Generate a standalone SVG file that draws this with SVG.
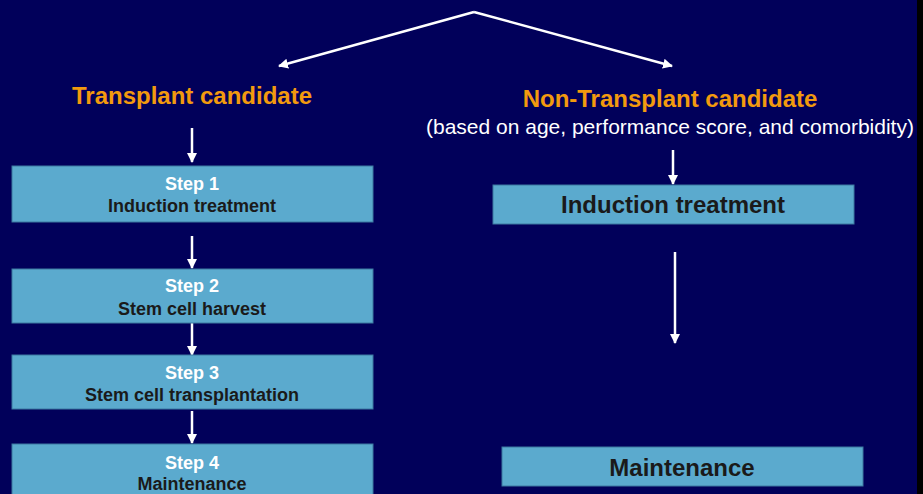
<svg xmlns="http://www.w3.org/2000/svg" width="923" height="494" viewBox="0 0 923 494">
<defs>
<marker id="ah" viewBox="0 0 10 10" refX="9" refY="5" markerWidth="4" markerHeight="4" orient="auto" markerUnits="strokeWidth">
<path d="M0,0 L10,5 L0,10 z" fill="#ffffff"/>
</marker>
<style>
.box{fill:#5BAACE;stroke:#3C78A0;stroke-width:1}
.step{font-family:"Liberation Sans",Arial,sans-serif;font-weight:bold;font-size:18px;fill:#ffffff;text-anchor:middle}
.lbl{font-family:"Liberation Sans",Arial,sans-serif;font-weight:bold;font-size:18px;fill:#1a1a1a;text-anchor:middle}
.big{font-family:"Liberation Sans",Arial,sans-serif;font-weight:bold;font-size:24px;fill:#1a1a1a;text-anchor:middle}
.head{font-family:"Liberation Sans",Arial,sans-serif;font-weight:bold;font-size:24px;fill:#F29A0E;text-anchor:middle}
.sub{font-family:"Liberation Sans",Arial,sans-serif;font-size:21px;fill:#ffffff}
.con{stroke:#ffffff;stroke-width:2.5;fill:none;marker-end:url(#ah)}
</style>
</defs>
<rect x="0" y="0" width="923" height="494" fill="#01005A"/>

<g id="head-transplant">
<text class="head" x="192" y="104">Transplant candidate</text>
</g>
<g id="head-nontransplant">
<text class="head" x="670" y="107">Non-Transplant candidate</text>
<text class="sub" x="426" y="134">(based on age, performance score, and comorbidity)</text>
</g>
<rect x="917" y="0" width="6" height="494" fill="#000000"/>

<g id="connectors">
<polyline class="con" points="474,12 279,66" />
<polyline class="con" points="474,12 672,66" />
<line class="con" x1="192" y1="128" x2="192" y2="162"/>
<line class="con" x1="192" y1="236" x2="192" y2="268"/>
<line class="con" x1="192" y1="323" x2="192" y2="355"/>
<line class="con" x1="192" y1="411" x2="192" y2="443"/>
<line class="con" x1="673" y1="150" x2="673" y2="184"/>
<line class="con" x1="675" y1="252" x2="675" y2="343"/>
</g>

<g id="step1">
<rect class="box" x="12" y="166" width="361" height="56"/>
<text class="step" x="192" y="190">Step 1</text>
<text class="lbl" x="192" y="212">Induction treatment</text>
</g>
<g id="step2">
<rect class="box" x="12" y="269" width="361" height="54"/>
<text class="step" x="192" y="292">Step 2</text>
<text class="lbl" x="192" y="315">Stem cell harvest</text>
</g>
<g id="step3">
<rect class="box" x="12" y="355" width="361" height="54"/>
<text class="step" x="192" y="379">Step 3</text>
<text class="lbl" x="192" y="401">Stem cell transplantation</text>
</g>
<g id="step4">
<rect class="box" x="12" y="444" width="361" height="60"/>
<text class="step" x="192" y="469">Step 4</text>
<text class="lbl" x="192" y="490">Maintenance</text>
</g>
<g id="nt-induction">
<rect class="box" x="493" y="185" width="361" height="39"/>
<text class="big" x="673" y="213">Induction treatment</text>
</g>
<g id="nt-maintenance">
<rect class="box" x="502" y="447" width="361" height="39"/>
<text class="big" x="682" y="476">Maintenance</text>
</g>
</svg>
